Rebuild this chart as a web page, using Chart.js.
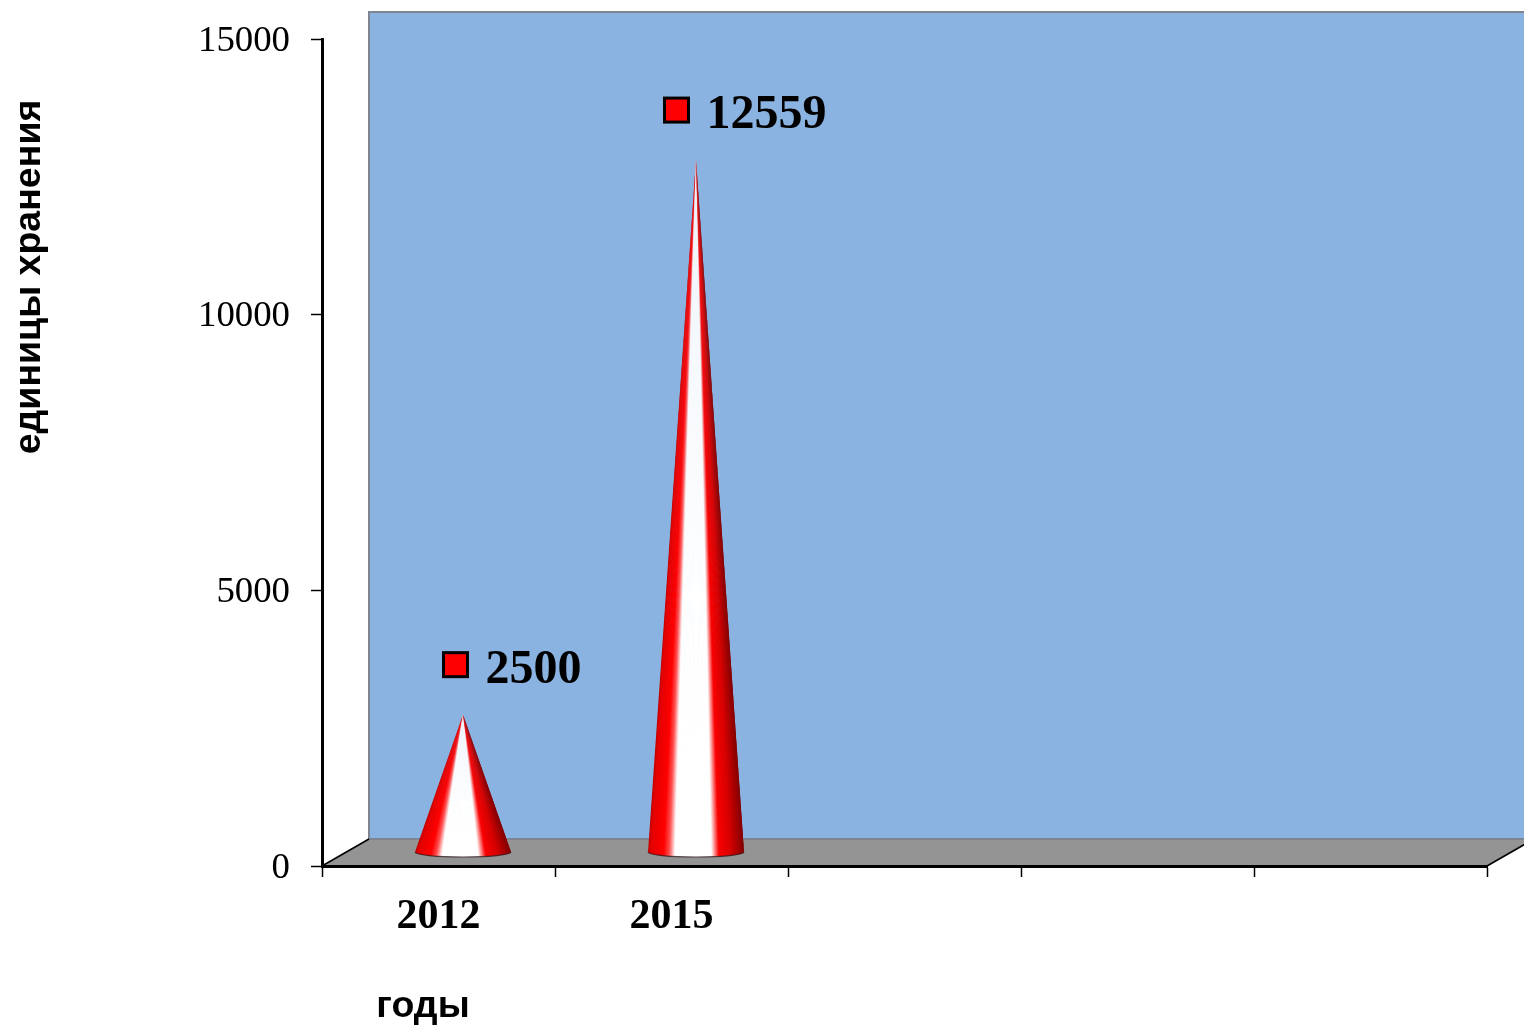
<!DOCTYPE html>
<html>
<head>
<meta charset="utf-8">
<title>единицы хранения</title>
<style>
    html, body { margin: 0; padding: 0; background: #fff; overflow: hidden; }
    canvas { display: block; }
</style>
<script src="https://cdn.jsdelivr.net/npm/chart.js@4/dist/chart.umd.min.js"></script>
</head>
<body>
<canvas id="chart-fondy" width="1524" height="1025"></canvas>
<script>
const categories = ['2012', '2015', '', '', ''];
const storageUnits = [2500, 12559, null, null, null];
const yTicks = [0, 5000, 10000, 15000];
const yTitle = 'единицы хранения';
const xTitle = 'годы';

const SERIF = '"Liberation Serif", serif';
const SANS = '"Liberation Sans", sans-serif';

// depth of the fake 3D box, in pixels
const DEPTH_X = 47;
const DEPTH_Y = 27;

// shading across the cone, left to right
const coneStops = [
    [0.00, [190, 0, 0]],
    [0.03, [228, 0, 0]],
    [0.16, [255, 0, 0]],
    [0.22, [255, 80, 80]],
    [0.28, [255, 255, 255]],
    [0.66, [255, 255, 255]],
    [0.74, [250, 0, 0]],
    [0.86, [215, 0, 0]],
    [1.00, [130, 0, 0]],
];

function coneColor(t) {
    for (let i = 1; i < coneStops.length; i++) {
        const [t1, c1] = coneStops[i];
        const [t0, c0] = coneStops[i - 1];
        if (t <= t1) {
            const k = (t - t0) / (t1 - t0);
            const mix = c0.map((c, n) => Math.round(c + (c1[n] - c) * k));
            return `rgb(${mix.join(',')})`;
        }
    }
    return 'rgb(130,0,0)';
}

function drawCone(ctx, cx, tipY, baseY, rx, ry) {
    const strips = 120;

    function rim(u) {
        return baseY + ry * Math.sqrt(Math.max(0, 1 - u * u));
    }

    // fan of thin triangles so the shading converges at the tip; each one
    // runs a strip past its own edge and the next paints over the overlap
    for (let i = 0; i < strips; i++) {
        const u0 = -1 + 2 * i / strips;
        const u1 = Math.min(1, -1 + 2 * (i + 2) / strips);
        ctx.beginPath();
        ctx.moveTo(cx, tipY);
        ctx.lineTo(cx + u0 * rx, rim(u0));
        ctx.lineTo(cx + u1 * rx, rim(u1));
        ctx.closePath();
        ctx.fillStyle = coneColor((i + 0.5) / strips);
        ctx.fill();
    }

    // thin dark rim along the bottom of the base
    ctx.beginPath();
    ctx.ellipse(cx, baseY, rx, ry, 0, 0, Math.PI);
    ctx.strokeStyle = 'rgba(50,30,30,0.8)';
    ctx.lineWidth = 1.2;
    ctx.stroke();
}

// back wall and floor go under the axes
const boxPlugin = {
    id: 'box',
    beforeDraw(chart) {
        const { ctx, chartArea: a } = chart;
        ctx.save();

        ctx.beginPath();
        ctx.moveTo(a.left, a.bottom);
        ctx.lineTo(a.left + DEPTH_X, a.bottom - DEPTH_Y);
        ctx.lineTo(a.right + DEPTH_X, a.bottom - DEPTH_Y);
        ctx.lineTo(a.right, a.bottom);
        ctx.closePath();
        ctx.fillStyle = '#949494';
        ctx.fill();

        ctx.fillStyle = '#8BB3E1';
        ctx.fillRect(a.left + DEPTH_X, a.top - DEPTH_Y, a.width, a.height);
        ctx.strokeStyle = '#7d8590';
        ctx.lineWidth = 2;
        ctx.strokeRect(a.left + DEPTH_X, a.top - DEPTH_Y, a.width, a.height);

        ctx.strokeStyle = '#000';
        ctx.lineWidth = 1.6;
        ctx.beginPath();
        ctx.moveTo(a.left, a.bottom);
        ctx.lineTo(a.left + DEPTH_X, a.bottom - DEPTH_Y);
        ctx.moveTo(a.right, a.bottom);
        ctx.lineTo(a.right + DEPTH_X, a.bottom - DEPTH_Y);
        ctx.stroke();

        ctx.restore();
    },
};

// cones and their value labels, placed from the bar elements of the dataset
const conePlugin = {
    id: 'cones',
    afterDatasetsDraw(chart) {
        const { ctx } = chart;
        const bars = chart.getDatasetMeta(0).data;

        ctx.save();
        bars.forEach((bar, index) => {
            const value = storageUnits[index];
            if (value === null) {
                return;
            }

            const cx = bar.x + DEPTH_X / 2 + 1;
            const tipY = bar.y - DEPTH_Y / 2;
            const baseY = bar.base - DEPTH_Y / 2;
            drawCone(ctx, cx, tipY, baseY, bar.width / 2, 5);

            const text = String(value);
            const size = 24;
            const gap = 18;
            ctx.font = 'bold 48px ' + SERIF;
            const total = size + gap + ctx.measureText(text).width;
            const left = cx + 49.5 - total / 2;
            const midY = tipY - 50;

            ctx.fillStyle = '#FF0000';
            ctx.strokeStyle = '#000';
            ctx.lineWidth = 3;
            ctx.fillRect(left, midY - size / 2, size, size);
            ctx.strokeRect(left, midY - size / 2, size, size);

            ctx.fillStyle = '#000';
            ctx.textAlign = 'left';
            ctx.textBaseline = 'middle';
            ctx.fillText(text, left + size + gap, midY + 6);
        });
        ctx.restore();
    },
};

// axis captions sit away from the axis centres, so they are placed by hand
const captionPlugin = {
    id: 'captions',
    afterDraw(chart) {
        const { ctx } = chart;
        ctx.save();
        ctx.fillStyle = '#000';
        ctx.font = 'bold 37.5px ' + SANS;
        ctx.textAlign = 'center';
        ctx.textBaseline = 'middle';

        ctx.fillText(xTitle, 423, 1007);

        ctx.translate(29.5, 277);
        ctx.rotate(-Math.PI / 2);
        ctx.fillText(yTitle, 0, 0);
        ctx.restore();
    },
};

new Chart(document.getElementById('chart-fondy'), {
    type: 'bar',
    data: {
        labels: categories,
        datasets: [
            {
                label: yTitle,
                data: storageUnits,
                backgroundColor: 'rgba(0,0,0,0)',
                borderWidth: 0,
                categoryPercentage: 1,
                barPercentage: 0.412,
            },
        ],
    },
    options: {
        responsive: false,
        animation: false,
        layout: {
            padding: { top: 39, right: 37, bottom: 0, left: 0 },
        },
        plugins: {
            legend: { display: false },
            tooltip: { enabled: false },
        },
        scales: {
            x: {
                afterFit(scale) {
                    scale.height = 159;
                },
                border: { color: '#000', width: 3 },
                grid: {
                    drawOnChartArea: false,
                    color: '#000',
                    tickLength: 11,
                    tickWidth: 1.5,
                },
                ticks: {
                    color: '#000',
                    font: { family: SERIF, size: 42, weight: 'bold' },
                    maxRotation: 0,
                    autoSkip: false,
                    padding: 15,
                },
            },
            y: {
                min: 0,
                max: 15000,
                afterFit(scale) {
                    scale.width = 322;
                    // tick padding would otherwise push the plot top down
                    scale.paddingTop = 0;
                    scale.paddingBottom = 0;
                },
                afterBuildTicks(scale) {
                    scale.ticks = yTicks.map(value => ({ value }));
                },
                border: { color: '#000', width: 3 },
                grid: {
                    drawOnChartArea: false,
                    color: '#000',
                    tickLength: 11,
                    tickWidth: 1.5,
                },
                ticks: {
                    color: '#000',
                    font: { family: SERIF, size: 36.8 },
                    padding: 21,
                    labelOffset: 2,
                    callback: value => String(value),
                },
            },
        },
    },
    plugins: [boxPlugin, conePlugin, captionPlugin],
});
</script>
</body>
</html>
